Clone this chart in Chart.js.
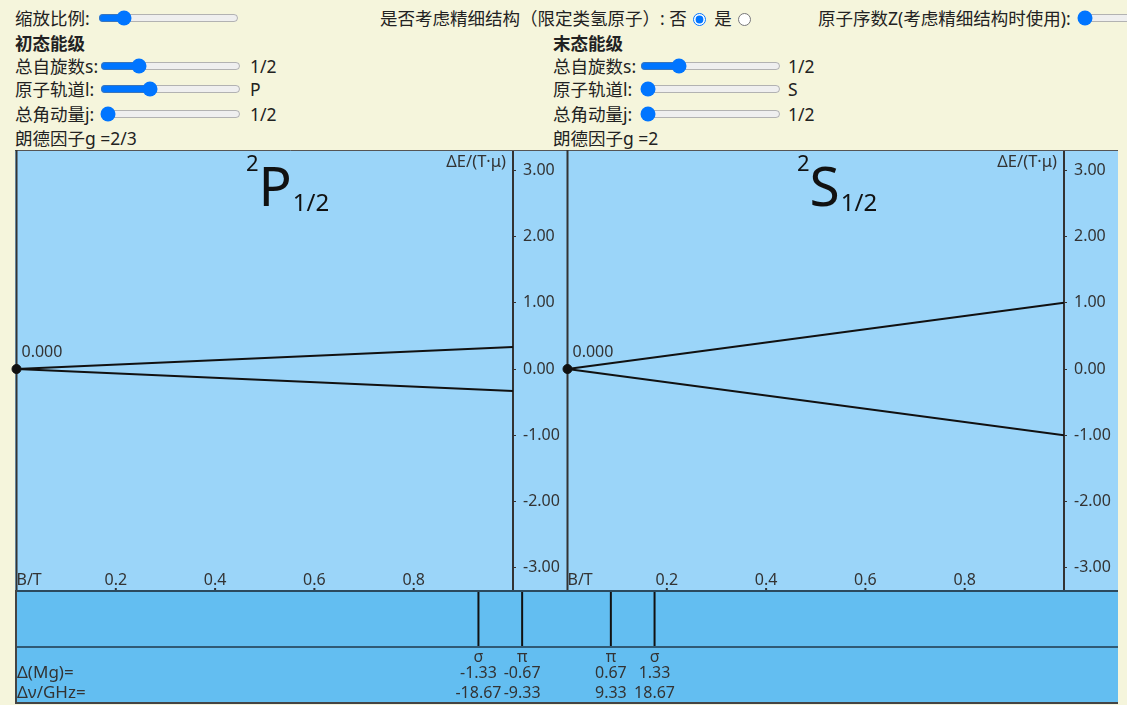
<!DOCTYPE html>
<html>
<head>
<meta charset="utf-8">
<title>塞曼效应</title>
<script src="https://cdn.jsdelivr.net/npm/chart.js@4/dist/chart.umd.min.js"></script>
<style>
  html, body { margin: 0; padding: 0; background: #fff; }
  #page {
    position: relative; width: 1127px; height: 705px; overflow: hidden;
    background: #F5F5DC; color: #222;
    font-family: "Noto Sans", "Noto Sans CJK SC", sans-serif; font-size: 17.5px;
  }
  .t { position: absolute; white-space: nowrap; height: 24px; line-height: 24px; }
  .b { font-weight: bold; }
  input[type=range] { position: absolute; width: 141px; height: 16px; margin: 0; }
  input[type=radio] { margin: 0 4px 0 6px; vertical-align: -1px; }
  canvas { position: absolute; display: block; }
</style>
</head>
<body>
<div id="page">
  <!-- top row -->
  <div class="t" style="left:15px;top:6px">缩放比例:</div>
  <input type="range" min="0" max="100" value="14" style="left:98px;top:10px">
  <div class="t" style="left:380px;top:6px">是否考虑精细结构（限定类氢原子）: 否<input type="radio" name="fs" checked> 是<input type="radio" name="fs"></div>
  <div class="t" style="left:818px;top:6px">原子序数Z(考虑精细结构时使用):</div>
  <input type="range" min="1" max="100" value="1" style="left:1077px;top:10px">

  <!-- initial level controls -->
  <div class="t b" style="left:15px;top:31px">初态能级</div>
  <div class="t" style="left:15px;top:54px">总自旋数s:</div>
  <input type="range" min="0" max="4" value="1" style="left:100px;top:58px">
  <div class="t" style="left:250px;top:54px">1/2</div>
  <div class="t" style="left:15px;top:77px">原子轨道l:</div>
  <input type="range" min="0" max="3" value="1" style="left:100px;top:81px">
  <div class="t" style="left:250px;top:77px">P</div>
  <div class="t" style="left:15px;top:102px">总角动量j:</div>
  <input type="range" min="0" max="4" value="0" style="left:100px;top:106px">
  <div class="t" style="left:250px;top:102px">1/2</div>
  <div class="t" style="left:15px;top:126px">朗德因子g =2/3</div>

  <!-- final level controls -->
  <div class="t b" style="left:553px;top:31px">末态能级</div>
  <div class="t" style="left:553px;top:54px">总自旋数s:</div>
  <input type="range" min="0" max="4" value="1" style="left:640px;top:58px">
  <div class="t" style="left:788px;top:54px">1/2</div>
  <div class="t" style="left:553px;top:77px">原子轨道l:</div>
  <input type="range" min="0" max="3" value="0" style="left:640px;top:81px">
  <div class="t" style="left:788px;top:77px">S</div>
  <div class="t" style="left:553px;top:102px">总角动量j:</div>
  <input type="range" min="0" max="4" value="0" style="left:640px;top:106px">
  <div class="t" style="left:788px;top:102px">1/2</div>
  <div class="t" style="left:553px;top:126px">朗德因子g =2</div>

  <canvas id="initialLevel" width="557" height="440" style="left:9px;top:150px"></canvas>
  <canvas id="finalLevel" width="560" height="440" style="left:558px;top:150px"></canvas>
  <canvas id="spectrum" width="1103" height="114" style="left:15px;top:590px"></canvas>
</div>

<script>
// Magnetic field span and axis ticks
const FIELD_RANGE = [0, 1];                 // B/T
const FIELD_TICKS = [0.2, 0.4, 0.6, 0.8];
const ENERGY_TICKS = [-3, -2, -1, 0, 1, 2, 3];

// Sub-level energies ΔE/(T·μ): value at B = 0 and at B = 1 T (m_j = +1/2, -1/2)
const ZERO_FIELD_ENERGY = 0.000;
const INITIAL_SPLIT = [0.333, -0.333];      // 2P1/2, g = 2/3
const FINAL_SPLIT = [1.00, -1.00];          // 2S1/2, g = 2

// Transition lines
const LINE_SHIFT = [-1.33, -0.67, 0.67, 1.33];          // Δ(Mg)
const LINE_POLARIZATION = ['σ', 'π', 'π', 'σ'];
const LINE_FREQ_GHZ = [-18.67, -9.33, 9.33, 18.67];     // Δν/GHz

const FONT = '"Noto Sans", "Noto Sans CJK SC", sans-serif';
const PANEL_BG = '#9BD5F9';
const STRIP_BG = '#63BEF1';
const INK = '#111';
const LABEL = '#333';

// Background, borders and text for an energy-level panel.
// The canvas reaches a few pixels left of the B = 0 line so the origin dot is not cut.
const levelPanelPlugin = {
  id: 'levelPanel',
  beforeDraw(chart) {
    const { ctx, width, height } = chart;
    const edge = chart.scales.x.getPixelForValue(FIELD_RANGE[0]) - 1.5;
    ctx.save();
    ctx.fillStyle = PANEL_BG;
    ctx.fillRect(edge, 0, width - edge, height);
    ctx.restore();
  },
  beforeDatasetsDraw(chart) {
    const { ctx, width, height } = chart;
    const x0 = chart.scales.x.getPixelForValue(FIELD_RANGE[0]);
    ctx.save();
    // top border and B = 0 axis line, under the level lines
    ctx.strokeStyle = '#555';
    ctx.lineWidth = 1;
    ctx.beginPath(); ctx.moveTo(x0 - 1.5, 0.5); ctx.lineTo(width, 0.5); ctx.stroke();
    ctx.strokeStyle = '#333';
    ctx.lineWidth = 2;
    ctx.beginPath(); ctx.moveTo(x0, 0); ctx.lineTo(x0, height); ctx.stroke();
    ctx.restore();
  },
  afterDatasetsDraw(chart) {
    const { ctx, chartArea: a } = chart;
    const xs = chart.scales.x, ys = chart.scales.y;
    const term = chart.options.plugins.levelPanel;
    const x0 = xs.getPixelForValue(FIELD_RANGE[0]);
    ctx.save();

    // field ticks and labels along the bottom edge
    ctx.fillStyle = LABEL;
    ctx.font = '16px ' + FONT;
    ctx.textBaseline = 'alphabetic';
    ctx.textAlign = 'center';
    FIELD_TICKS.forEach(v => {
      const x = xs.getPixelForValue(v);
      ctx.fillText(String(v), x, a.bottom - 5);
      ctx.fillRect(x - 1, a.bottom - 2, 2, 2);
    });
    ctx.textAlign = 'left';
    ctx.fillText('B/T', x0, a.bottom - 5);

    // axis title
    ctx.font = '16.5px ' + FONT;
    ctx.textAlign = 'right';
    ctx.fillText('ΔE/(T·μ)', a.right - 7, a.top + 17);

    // zero-field energy label
    ctx.font = '16px ' + FONT;
    ctx.textAlign = 'left';
    ctx.textBaseline = 'middle';
    ctx.fillText(ZERO_FIELD_ENERGY.toFixed(3), x0 + 5, ys.getPixelForValue(ZERO_FIELD_ENERGY) - 17);

    // term symbol
    ctx.fillStyle = INK;
    ctx.textBaseline = 'alphabetic';
    let x = x0 + term.offset;
    ctx.font = '22px ' + FONT;
    ctx.fillText(term.sup, x, 21);
    x += ctx.measureText(term.sup).width;
    ctx.font = '55px ' + FONT;
    ctx.fillText(term.letter, x, 56);
    x += ctx.measureText(term.letter).width + 1;
    ctx.font = '24px ' + FONT;
    ctx.fillText(term.sub, x, 61);
    ctx.restore();
  }
};

function levelChart(id, split, term, padLeft, axisWidth) {
  const datasets = split.map(end => ({
    data: [{ x: FIELD_RANGE[0], y: ZERO_FIELD_ENERGY }, { x: FIELD_RANGE[1], y: end }],
    showLine: true, borderColor: INK, borderWidth: 2, pointRadius: 0
  }));
  datasets.push({
    data: [{ x: FIELD_RANGE[0], y: ZERO_FIELD_ENERGY }],
    pointRadius: 4.5, pointBackgroundColor: INK, pointBorderColor: INK, clip: false
  });
  return new Chart(document.getElementById(id), {
    type: 'scatter',
    data: { datasets },
    options: {
      responsive: false, animation: false,
      layout: { autoPadding: false, padding: { left: padLeft, top: 0, right: 0, bottom: 0 } },
      plugins: { legend: { display: false }, tooltip: { enabled: false }, levelPanel: term },
      scales: {
        x: { type: 'linear', min: FIELD_RANGE[0], max: FIELD_RANGE[1], display: false },
        y: {
          type: 'linear', position: 'right', min: -3.34, max: 3.31,
          afterBuildTicks: s => { s.ticks = ENERGY_TICKS.map(v => ({ value: v })); },
          afterFit: s => { s.width = axisWidth; s.paddingTop = 0; s.paddingBottom = 0; },
          border: { display: true, color: '#333', width: 2 },
          grid: { drawOnChartArea: false, drawTicks: true, tickLength: 3, color: '#333' },
          ticks: { color: LABEL, padding: 7, font: { size: 16, family: FONT },
                   callback: v => v.toFixed(2) }
        }
      }
    },
    plugins: [levelPanelPlugin]
  });
}

levelChart('initialLevel', INITIAL_SPLIT, { offset: 229.5, sup: '2', letter: 'P', sub: '1/2' }, 7.5, 53);
levelChart('finalLevel', FINAL_SPLIT, { offset: 229.5, sup: '2', letter: 'S', sub: '1/2' }, 9.5, 54);

// Spectrum strip with the Zeeman components
const spectrumPlugin = {
  id: 'spectrumPanel',
  beforeDraw(chart) {
    const { ctx, width, height } = chart;
    ctx.save();
    ctx.fillStyle = STRIP_BG;
    ctx.fillRect(0, 0, width, height);
    ctx.restore();
  },
  afterDatasetsDraw(chart) {
    const { ctx, chartArea: a, width, height } = chart;
    const xs = chart.scales.x;
    ctx.save();
    ctx.strokeStyle = '#2B4A5E';
    ctx.lineWidth = 2;
    ctx.beginPath(); ctx.moveTo(0, 1); ctx.lineTo(width, 1); ctx.stroke();
    ctx.strokeStyle = '#2F5A75';
    ctx.beginPath(); ctx.moveTo(0, a.bottom); ctx.lineTo(width, a.bottom); ctx.stroke();
    ctx.strokeStyle = '#444';
    ctx.beginPath(); ctx.moveTo(1, 0); ctx.lineTo(1, height); ctx.stroke();
    ctx.beginPath(); ctx.moveTo(0, height - 1); ctx.lineTo(width, height - 1); ctx.stroke();

    ctx.fillStyle = LABEL;
    ctx.textBaseline = 'middle';
    ctx.textAlign = 'left';
    ctx.font = '17px ' + FONT;
    ctx.fillText('Δ(Mg)=', 2, 83);
    ctx.fillText('Δν/GHz=', 2, 103);
    ctx.font = '16px ' + FONT;
    ctx.textAlign = 'center';
    LINE_SHIFT.forEach((d, i) => {
      const x = xs.getPixelForValue(d);
      ctx.fillText(LINE_POLARIZATION[i], x, 67);
      ctx.fillText(d.toFixed(2), x, 83);
      ctx.fillText(LINE_FREQ_GHZ[i].toFixed(2), x, 103);
    });
    ctx.restore();
  }
};

new Chart(document.getElementById('spectrum'), {
  type: 'scatter',
  data: {
    datasets: LINE_SHIFT.map(d => ({
      data: [{ x: d, y: 0 }, { x: d, y: 1 }],
      showLine: true, borderColor: INK, borderWidth: 2, pointRadius: 0
    }))
  },
  options: {
    responsive: false, animation: false,
    layout: { autoPadding: false, padding: { left: 0, right: 0, top: 1, bottom: 57 } },
    plugins: { legend: { display: false }, tooltip: { enabled: false } },
    scales: {
      x: { type: 'linear', min: -8.33, max: 8.33, display: false },
      y: { type: 'linear', min: 0, max: 1, display: false }
    }
  },
  plugins: [spectrumPlugin]
});
</script>
</body>
</html>
